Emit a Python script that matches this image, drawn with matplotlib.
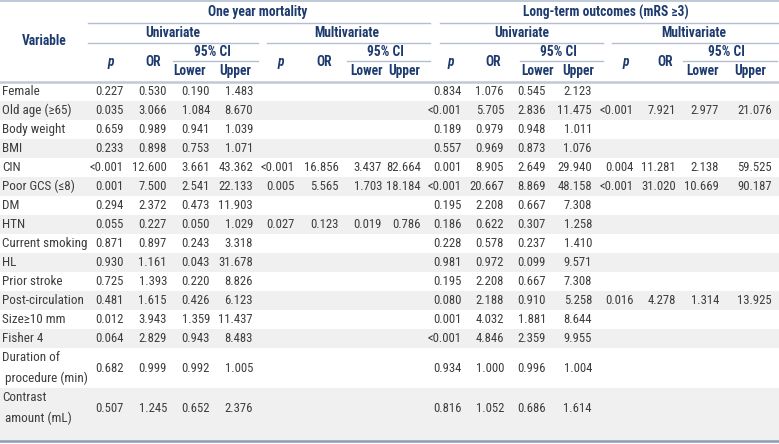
import matplotlib.pyplot as plt
from matplotlib import font_manager

# data
variables = ["Female", "Old age (\u226565)", "Body weight", "BMI", "CIN", "Poor GCS (\u22648)",
             "DM", "HTN", "Current smoking", "HL", "Prior stroke", "Post-circulation",
             "Size\u226510 mm", "Fisher 4", "Duration of\n procedure (min)", "Contrast\n amount (mL)"]

oy_uni_p = ["0.227", "0.035", "0.659", "0.233", "<0.001", "0.001", "0.294", "0.055", "0.871",
            "0.930", "0.725", "0.481", "0.012", "0.064", "0.682", "0.507"]
oy_uni_or = ["0.530", "3.066", "0.989", "0.898", "12.600", "7.500", "2.372", "0.227", "0.897",
             "1.161", "1.393", "1.615", "3.943", "2.829", "0.999", "1.245"]
oy_uni_lo = ["0.190", "1.084", "0.941", "0.753", "3.661", "2.541", "0.473", "0.050", "0.243",
             "0.043", "0.220", "0.426", "1.359", "0.943", "0.992", "0.652"]
oy_uni_hi = ["1.483", "8.670", "1.039", "1.071", "43.362", "22.133", "11.903", "1.029", "3.318",
             "31.678", "8.826", "6.123", "11.437", "8.483", "1.005", "2.376"]

oy_multi_p = [""] * 4 + ["<0.001", "0.005", "", "0.027"] + [""] * 8
oy_multi_or = [""] * 4 + ["16.856", "5.565", "", "0.123"] + [""] * 8
oy_multi_lo = [""] * 4 + ["3.437", "1.703", "", "0.019"] + [""] * 8
oy_multi_hi = [""] * 4 + ["82.664", "18.184", "", "0.786"] + [""] * 8

lt_uni_p = ["0.834", "<0.001", "0.189", "0.557", "0.001", "<0.001", "0.195", "0.186", "0.228",
            "0.981", "0.195", "0.080", "0.001", "<0.001", "0.934", "0.816"]
lt_uni_or = ["1.076", "5.705", "0.979", "0.969", "8.905", "20.667", "2.208", "0.622", "0.578",
             "0.972", "2.208", "2.188", "4.032", "4.846", "1.000", "1.052"]
lt_uni_lo = ["0.545", "2.836", "0.948", "0.873", "2.649", "8.869", "0.667", "0.307", "0.237",
             "0.099", "0.667", "0.910", "1.881", "2.359", "0.996", "0.686"]
lt_uni_hi = ["2.123", "11.475", "1.011", "1.076", "29.940", "48.158", "7.308", "1.258", "1.410",
             "9.571", "7.308", "5.258", "8.644", "9.955", "1.004", "1.614"]

lt_multi_p = ["", "<0.001", "", "", "0.004", "<0.001"] + [""] * 5 + ["0.016"] + [""] * 4
lt_multi_or = ["", "7.921", "", "", "11.281", "31.020"] + [""] * 5 + ["4.278"] + [""] * 4
lt_multi_lo = ["", "2.977", "", "", "2.138", "10.669"] + [""] * 5 + ["1.314"] + [""] * 4
lt_multi_hi = ["", "21.076", "", "", "59.525", "90.187"] + [""] * 5 + ["13.925"] + [""] * 4

columns = [oy_uni_p, oy_uni_or, oy_uni_lo, oy_uni_hi,
           oy_multi_p, oy_multi_or, oy_multi_lo, oy_multi_hi,
           lt_uni_p, lt_uni_or, lt_uni_lo, lt_uni_hi,
           lt_multi_p, lt_multi_or, lt_multi_lo, lt_multi_hi]

# layout (pixels)
col_right = [124, 167, 210, 253, 295, 339, 382, 421, 462, 504, 546, 592, 634, 676, 719, 772]
col_center = [111, 153, 190, 235, 281, 324, 367, 404, 451, 493, 538, 578, 626, 665, 703, 750]
row_h = [19] * 14 + [40, 53]

names = set(f.name for f in font_manager.fontManager.ttflist)
font = "Liberation Sans"
for cand in ["Roboto Condensed", "Liberation Sans Narrow", "Open Sans Condensed", "Roboto"]:
    if cand in names:
        font = cand
        break

navy = "#1d3b6f"
body = "#3d3d3d"
shade = "#f0f0f0"
rule = "#b3bfd0"

fig = plt.figure(figsize=(7.79, 4.44), dpi=100)
ax = fig.add_axes([0, 0, 1, 1])
ax.set_xlim(0, 779)
ax.set_ylim(444, 0)
ax.axis("off")
renderer = fig.canvas.get_renderer()


def fit_size(text, width, weight):
    # font size that gives the wanted pixel width
    t = fig.text(0, 0, text, family=font, weight=weight, fontsize=10)
    w = t.get_window_extent(renderer).width
    t.remove()
    return 10 * width / w


label_fs = min(fit_size("Current smoking", 85, "normal"), 10.5)
num_fs = min(fit_size("0.227", 28, "normal"), 10.5)
head_fs = min(fit_size("Long-term outcomes (mRS \u22653)", 166, "bold"), 10.5)

# rows
y = 82
for i, var in enumerate(variables):
    h = row_h[i]
    if i % 2 == 1:
        ax.axhspan(y, y + h, color=shade, lw=0, zorder=0)
    yc = y + min(h, 40) / 2
    ax.text(2, yc, var, ha="left", va="center", fontsize=label_fs, family=font, color=body,
            linespacing=1.7)
    for c, col in enumerate(columns):
        if col[i]:
            ax.text(col_right[c], yc, col[i], ha="right", va="center", fontsize=num_fs,
                    family=font, color=body)
    y += h

# header
hk = dict(ha="center", va="center", fontsize=head_fs, family=font, color=navy, weight="bold")
ax.text(44, 41, "Variable", **hk)
ax.text(258, 12, "One year mortality", **hk)
ax.text(606, 12, "Long-term outcomes (mRS \u22653)", **hk)
for xc, lab in zip([173, 347, 522, 694], ["Univariate", "Multivariate", "Univariate", "Multivariate"]):
    ax.text(xc, 33, lab, **hk)
for g in range(4):
    p_c, or_c, lo_c, hi_c = col_center[4 * g:4 * g + 4]
    ax.text(p_c, 62, "p", style="italic", **hk)
    ax.text(or_c, 62, "OR", **hk)
    ax.text((lo_c + hi_c) / 2, 52, "95% CI", **hk)
    ax.text(lo_c, 71, "Lower", **hk)
    ax.text(hi_c, 71, "Upper", **hk)

# rules
ax.plot([0, 779], [1, 1], color=rule, lw=1.2)
for x0, x1 in [(88, 430), (440, 779)]:
    ax.plot([x0, x1], [23, 23], color=rule, lw=1)
for x0, x1 in [(88, 258), (267, 430), (440, 603), (612, 779)]:
    ax.plot([x0, x1], [43, 43], color=rule, lw=1)
for x0, x1 in [(173, 258), (347, 430), (520, 603), (683, 777)]:
    ax.plot([x0, x1], [61, 61], color=rule, lw=1)
ax.plot([0, 779], [82, 82], color="#c4c8d0", lw=1.8)
ax.plot([0, 779], [441, 441], color="#8d9cb4", lw=1.8)

fig.savefig("out.png", dpi=100)
